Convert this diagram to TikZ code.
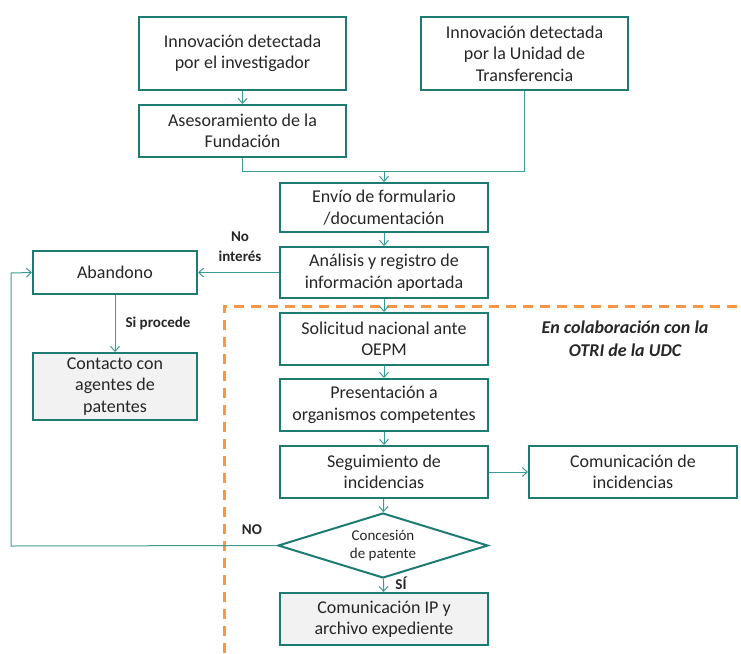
\documentclass[tikz,border=0pt]{standalone}
\usepackage{fontspec}
\setmainfont{Carlito}
\usetikzlibrary{shapes.geometric,arrows.meta}
\definecolor{boxc}{HTML}{1E7B72}
\definecolor{linec}{HTML}{3A9C93}
\definecolor{orng}{HTML}{F79646}
\definecolor{txt}{HTML}{262626}
\definecolor{gfill}{HTML}{F2F2F2}
\tikzset{
  stepbox/.style={draw=boxc, line width=2pt, align=center, inner sep=1pt,
    text=txt, font=\fontsize{18}{21.5}\selectfont, minimum width=208pt, minimum height=52pt},
  conn/.style={draw=linec, line width=1pt},
  arr/.style={conn, -{Straight Barb[length=5pt,width=9pt,line width=1pt]}},
  lbl/.style={font=\fontsize{15}{20}\selectfont\bfseries, text=txt, align=center, inner sep=0pt},
}
\begin{document}
\begin{tikzpicture}[x=1pt,y=-1pt]
\useasboundingbox (0,0) rectangle (741,653);
% dashed region
\draw[orng, line width=3pt, dash pattern=on 10pt off 7pt] (224,653) -- (224,306) -- (741,306);

\node[stepbox, minimum width=207pt, minimum height=73pt] (A) at (242.5,53.5) {Innovación detectada\\por el investigador};
\node[stepbox, minimum width=207pt, minimum height=73pt] (B) at (524.5,53.5) {Innovación detectada\\por la Unidad de\\Transferencia};
\node[stepbox, minimum width=207pt, minimum height=52pt] (C) at (242.5,131) {Asesoramiento de la\\Fundación};
\node[stepbox, minimum height=49pt] (D) at (384,207.5) {Envío de formulario\\/documentación};
\node[stepbox, minimum height=51pt] (E) at (384,272.5) {Análisis y registro de\\información aportada};
\node[stepbox, minimum width=164pt, minimum height=43pt] (Ab) at (115,272.5) {Abandono};
\node[stepbox, fill=gfill, minimum width=164pt, minimum height=67pt] (Ct) at (115,386.5) {Contacto con\\agentes de\\patentes};
\node[stepbox] (F) at (384,339) {Solicitud nacional ante\\OEPM};
\node[stepbox] (G) at (384,405) {Presentación a\\organismos competentes};
\node[stepbox] (H) at (384,472) {Seguimiento de\\incidencias};
\node[stepbox] (CI) at (633,472) {Comunicación de\\incidencias};
\node[diamond, aspect=3.2, draw=boxc, line width=2pt, align=center, text=txt, inner sep=0pt,
  font=\fontsize{15}{18.5}\selectfont, minimum width=210pt, minimum height=65pt] (Dm) at (383,545.5) {Concesión\\de patente};
\node[stepbox, fill=gfill] (L) at (384,619) {Comunicación IP y\\archivo expediente};

% labels
\node[lbl] (l1) at (240,247) {No\\interés};
\node[lbl] (l2) at (158,323) {Si procede};
\node[lbl] (l3) at (252,530) {NO};
\node[lbl] (l4) at (401,583) {SÍ};
\node[font=\fontsize{18}{23}\selectfont\bfseries\itshape, text=txt, align=center] (l5) at (625,338.5) {En colaboración con la\\OTRI de la UDC};

% coordinates
\coordinate (j) at (384,171);
\coordinate (lp) at (11,546);
\coordinate (lq) at (11,273);

% connectors
\draw[arr] (A) -- (C);
\draw[arr] (C.south) |- (j) -- (D.north);
\draw[conn] (B.south) |- (j);
\draw[arr] (D) -- (E);
\draw[arr] (E) -- (F);
\draw[arr] (F) -- (G);
\draw[arr] (G) -- (H);
\draw[arr] (H) -- (Dm);
\draw[arr] (Dm) -- (L);
\draw[arr] (E.west) -- (Ab.east);
\draw[arr] (Ab) -- (Ct);
\draw[arr] (H) -- (CI);
\draw[arr] (Dm.west) -- (lp) -- (lq) -- (Ab.west);
\end{tikzpicture}
\end{document}
